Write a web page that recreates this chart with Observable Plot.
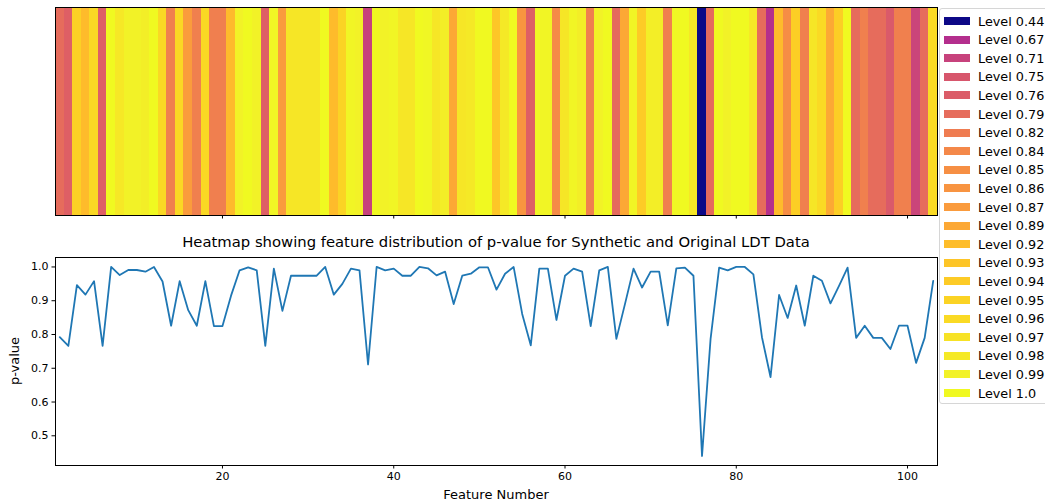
<!DOCTYPE html>
<html>
<head>
<meta charset="utf-8">
<script src="https://cdn.jsdelivr.net/npm/d3@7"></script>
<script src="https://cdn.jsdelivr.net/npm/@observablehq/plot@0.6"></script>
<style>
  html, body { margin: 0; padding: 0; background: #fff; }
  #wrap { position: relative; width: 1045px; height: 504px; overflow: hidden; font-family: "DejaVu Sans", sans-serif; color: #000; }
  .abs { position: absolute; }
  #title { left: 496px; top: 233px; transform: translateX(-50%); font-size: 14.8px; line-height: 18px; white-space: nowrap; }
  #xlabel { left: 496px; top: 487px; transform: translateX(-50%); font-size: 13px; line-height: 16px; white-space: nowrap; }
  #ylabel { left: 15px; top: 361px; transform: translate(-50%, -50%) rotate(-90deg); font-size: 13px; line-height: 16px; white-space: nowrap; }
  #legend { left: 939px; top: 8px; width: 130px; height: 396px; border: 1px solid #d6d6d6; border-radius: 3px; background: #fff; box-sizing: border-box; }
  .row { position: absolute; left: 0; height: 18px; display: flex; align-items: center; font-size: 12.8px; white-space: nowrap; }
  .sw { width: 26px; height: 8px; margin-left: 4px; margin-right: 8px; }
</style>
</head>
<body>
<div id="wrap">
  <div id="heat" class="abs" style="left:0;top:0"></div>
  <div id="title" class="abs">Heatmap showing feature distribution of p-value for Synthetic and Original LDT Data</div>
  <div id="line" class="abs" style="left:0;top:250px"></div>
  <div id="xlabel" class="abs">Feature Number</div>
  <div id="ylabel" class="abs">p-value</div>
  <div id="legend" class="abs"></div>
</div>
<script>
// Feature numbers 1..103
const features = [
  1,2,3,4,5,6,7,8,9,10,11,12,13,14,15,16,17,18,19,20,
  21,22,23,24,25,26,27,28,29,30,31,32,33,34,35,36,37,38,39,40,
  41,42,43,44,45,46,47,48,49,50,51,52,53,54,55,56,57,58,59,60,
  61,62,63,64,65,66,67,68,69,70,71,72,73,74,75,76,77,78,79,80,
  81,82,83,84,85,86,87,88,89,90,91,92,93,94,95,96,97,98,99,100,
  101,102,103
];
// p-values
const pValues = [
  0.792,0.766,0.946,0.918,0.958,0.766,1.000,0.976,0.991,0.991,
  0.986,1.000,0.957,0.826,0.958,0.872,0.826,0.958,0.825,0.825,
  0.915,0.990,0.999,0.990,0.766,0.995,0.870,0.974,0.974,0.974,
  0.974,1.000,0.918,0.950,0.995,0.990,0.711,1.000,0.990,0.995,
  0.974,0.974,1.000,0.996,0.975,0.986,0.890,0.974,0.980,0.999,
  0.999,0.933,0.980,1.000,0.861,0.768,0.995,0.995,0.843,0.974,
  0.995,0.986,0.825,0.990,1.000,0.787,0.890,0.995,0.939,0.986,
  0.986,0.827,0.996,0.998,0.974,0.440,0.787,0.998,0.990,1.000,
  1.000,0.978,0.792,0.674,0.917,0.849,0.945,0.826,0.974,0.959,
  0.892,0.944,0.998,0.790,0.826,0.790,0.790,0.757,0.826,0.826,
  0.716,0.790,0.959
];
// legend levels
const levels = [0.44,0.67,0.71,0.75,0.76,0.79,0.82,0.84,0.85,0.86,0.87,0.89,0.92,0.93,0.94,0.95,0.96,0.97,0.98,0.99,1.0];
const xTicks = [20, 40, 60, 80, 100];
const yTicks = [0.5, 0.6, 0.7, 0.8, 0.9, 1.0];

const data = features.map((n, i) => ({n, p: pValues[i]}));
const colorDomain = [d3.min(levels), d3.max(levels)];
const xDomain = [d3.min(features) - 0.5, d3.max(features) + 0.5];
const pad = (d3.max(pValues) - d3.min(pValues)) * 0.05;
const yDomain = [d3.min(pValues) - pad, d3.max(pValues) + pad];

const baseStyle = {fontFamily: "DejaVu Sans", fontSize: "11px", color: "#000", background: "transparent", overflow: "visible"};

const heat = Plot.plot({
  width: 940, height: 222,
  marginLeft: 55, marginRight: 3, marginTop: 7, marginBottom: 7,
  style: baseStyle,
  x: {domain: xDomain, axis: null},
  y: {axis: null},
  color: {type: "linear", scheme: "plasma", domain: colorDomain},
  marks: [
    Plot.rect(data, {x1: d => d.n - 0.5, x2: d => d.n + 0.5, fill: "p", inset: 0, shapeRendering: "crispEdges"}),
    Plot.frame({stroke: "#000", strokeWidth: 1}),
    Plot.axisX({ticks: xTicks, tickSize: 3.5, tickFormat: () => "", label: null, anchor: "bottom", stroke: "#000"})
  ]
});
document.getElementById("heat").appendChild(heat);

const line = Plot.plot({
  width: 940, height: 254,
  marginLeft: 55, marginRight: 3, marginTop: 7, marginBottom: 39,
  style: baseStyle,
  x: {domain: xDomain},
  y: {domain: yDomain},
  marks: [
    Plot.line(data, {x: "n", y: "p", stroke: "#1f77b4", strokeWidth: 1.8}),
    Plot.frame({stroke: "#000", strokeWidth: 1}),
    Plot.axisX({ticks: xTicks, tickSize: 3.5, tickPadding: 3.5, tickFormat: d3.format("d"), label: null, stroke: "#000"}),
    Plot.axisY({ticks: yTicks, tickSize: 3.5, tickPadding: 3.5, tickFormat: d3.format(".1f"), label: null, stroke: "#000"})
  ]
});
document.getElementById("line").appendChild(line);

const legend = document.getElementById("legend");
levels.forEach((lv, i) => {
  const row = document.createElement("div");
  row.className = "row";
  row.style.top = (3 + i * 18.6) + "px";
  const sw = document.createElement("div");
  sw.className = "sw";
  sw.style.background = d3.interpolatePlasma((lv - colorDomain[0]) / (colorDomain[1] - colorDomain[0]));
  const tx = document.createElement("span");
  tx.textContent = "Level " + String(lv === 1 ? "1.0" : lv);
  row.appendChild(sw);
  row.appendChild(tx);
  legend.appendChild(row);
});
</script>
</body>
</html>
